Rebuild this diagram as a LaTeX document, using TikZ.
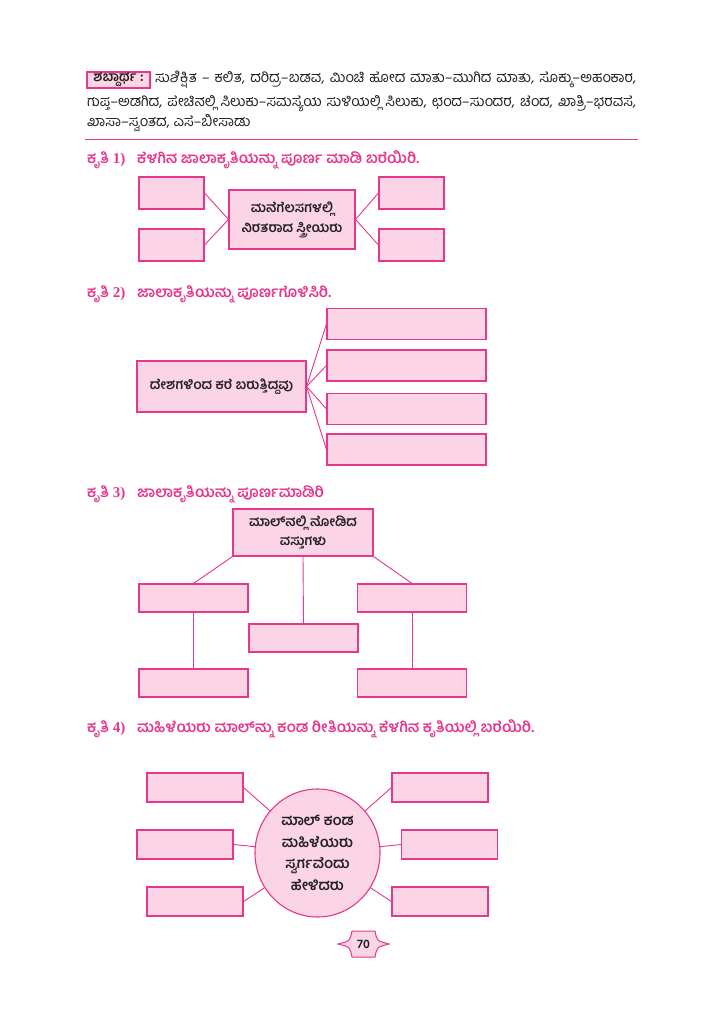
\documentclass[tikz,border=0pt]{standalone}
\usepackage{fontspec}
\usetikzlibrary{shapes.geometric}
\newfontfamily\kn[Script=Kannada]{Hind Mysuru}
\newfontfamily\lat{Liberation Serif}
\definecolor{pk}{HTML}{E8368C}
\definecolor{pkfill}{HTML}{FBD5E5}
\definecolor{txt}{HTML}{231F20}
\tikzset{
 pbox/.style={draw=pk, fill=pkfill, line width=1.1pt, inner sep=0pt},
 conn/.style={draw=pk, line width=0.9pt},
 head/.style={anchor=west, inner sep=0pt, text=pk, font=\kn\bfseries\fontsize{15}{17}\selectfont},
 gloss/.style={anchor=west, inner sep=0pt, font=\kn\fontsize{14.5}{16}\selectfont, text=txt},
 lbl/.style={font=\kn\bfseries\fontsize{13.5}{20}\selectfont, align=center, text=txt},
}
\begin{document}
\begin{tikzpicture}[x=1pt,y=-1pt]
\useasboundingbox (0,0) rectangle (724,1024);
\fill[white] (0,0) rectangle (724,1024);

% glossary
\node[pbox, minimum width=63pt, minimum height=16pt, font=\kn\bfseries\fontsize{13.5}{14}\selectfont, text=txt] (gl) at (118.5,80) {ಶಬ್ದಾರ್ಥ :};
\node[gloss] (g1) at (155,80) {\makebox[481pt][s]{ಸುಶಿಕ್ಷಿತ – ಕಲಿತ, ದರಿದ್ರ–ಬಡವ, ಮಿಂಚಿ ಹೋದ ಮಾತು–ಮುಗಿದ ಮಾತು, ಸೊಕ್ಕು–ಅಹಂಕಾರ,}};
\node[gloss] (g2) at (87,104) {\makebox[549pt][s]{ಗುಪ್ತ–ಅಡಗಿದ, ಪೇಚಿನಲ್ಲಿ ಸಿಲುಕು–ಸಮಸ್ಯೆಯ ಸುಳಿಯಲ್ಲಿ ಸಿಲುಕು, ಛಂದ–ಸುಂದರ, ಚೆಂದ, ಖಾತ್ರಿ–ಭರವಸೆ,}};
\node[gloss] (g3) at (87,123) {ಖಾಸಾ–ಸ್ವಂತದ, ಎಸೆ–ಬೀಸಾಡು};
\coordinate (ra) at (85,139);
\coordinate (rb) at (638,139);
\draw[pk, line width=0.9pt] (ra) -- (rb);

% task 1
\node[head] (h1n) at (87,160) {ಕೃತಿ {\lat\bfseries 1)}};
\node[head] (h1t) at (137,160) {ಕೆಳಗಿನ ಜಾಲಾಕೃತಿಯನ್ನು ಪೂರ್ಣ ಮಾಡಿ ಬರೆಯಿರಿ.};
\node[pbox, minimum width=126pt, minimum height=59pt, lbl] (c1) at (292,219.5) {ಮನೆಗೆಲಸಗಳಲ್ಲಿ\\ನಿರತರಾದ ಸ್ತ್ರೀಯರು};
\node[pbox, minimum width=65pt, minimum height=32pt] (a1) at (171.5,193) {};
\node[pbox, minimum width=65pt, minimum height=32pt] (a2) at (171.5,245) {};
\node[pbox, minimum width=65pt, minimum height=32pt] (a3) at (411.5,193) {};
\node[pbox, minimum width=65pt, minimum height=32pt] (a4) at (411.5,245) {};
\draw[conn] (a1.east) -- (c1.west) -- (a2.east);
\draw[conn] (a3.west) -- (c1.east) -- (a4.west);

% task 2
\node[head] (h2n) at (87,294) {ಕೃತಿ {\lat\bfseries 2)}};
\node[head] (h2t) at (137,294) {ಜಾಲಾಕೃತಿಯನ್ನು ಪೂರ್ಣಗೊಳಿಸಿರಿ.};
\node[pbox, minimum width=169pt, minimum height=51pt, lbl] (c2) at (221.5,386.5) {ದೇಶಗಳಿಂದ ಕರೆ ಬರುತ್ತಿದ್ದವು};
\node[pbox, minimum width=159pt, minimum height=31pt] (b1) at (406.5,324) {};
\node[pbox, minimum width=159pt, minimum height=31pt] (b2) at (406.5,365.5) {};
\node[pbox, minimum width=159pt, minimum height=31pt] (b3) at (406.5,409) {};
\node[pbox, minimum width=159pt, minimum height=31pt] (b4) at (406.5,449.5) {};
\foreach \b in {b1,b2,b3,b4} \draw[conn] (c2.east) -- (\b.west);

% task 3
\node[head] (h3n) at (87,494) {ಕೃತಿ {\lat\bfseries 3)}};
\node[head] (h3t) at (137,494) {ಜಾಲಾಕೃತಿಯನ್ನು ಪೂರ್ಣಮಾಡಿರಿ};
\node[pbox, minimum width=140pt, minimum height=47pt, lbl, font=\kn\bfseries\fontsize{13.5}{19}\selectfont] (c3) at (303,532.5) {ಮಾಲ್‌ನಲ್ಲಿ ನೋಡಿದ\\ವಸ್ತುಗಳು};
\node[pbox, minimum width=109pt, minimum height=28pt] (d1) at (193.5,598) {};
\node[pbox, minimum width=109pt, minimum height=28pt] (d2) at (412,598) {};
\node[pbox, minimum width=109pt, minimum height=28pt] (d3) at (303.5,638) {};
\node[pbox, minimum width=109pt, minimum height=28pt] (d4) at (193.5,683) {};
\node[pbox, minimum width=109pt, minimum height=28pt] (d5) at (412,683) {};
\draw[conn] (c3.south west) -- (d1.north);
\draw[conn] (c3.south east) -- (d2.north);
\draw[conn] (c3.south) -- (d3.north);
\draw[conn] (d1.south) -- (d4.north);
\draw[conn] (d2.south) -- (d5.north);

% task 4
\node[head] (h4n) at (87,729) {ಕೃತಿ {\lat\bfseries 4)}};
\node[head] (h4t) at (137,729) {ಮಹಿಳೆಯರು ಮಾಲ್‌ನ್ನು ಕಂಡ ರೀತಿಯನ್ನು ಕೆಳಗಿನ ಕೃತಿಯಲ್ಲಿ ಬರೆಯಿರಿ.};
\node[pbox, ellipse, minimum width=125pt, minimum height=128pt, lbl, font=\kn\bfseries\fontsize{14.5}{21.5}\selectfont] (e) at (317.5,853) {ಮಾಲ್ ಕಂಡ\\ಮಹಿಳೆಯರು\\ಸ್ವರ್ಗವೆಂದು\\ಹೇಳಿದರು};
\node[pbox, minimum width=96pt, minimum height=29pt] (f1) at (195,787.5) {};
\node[pbox, minimum width=96pt, minimum height=29pt] (f2) at (185,844.5) {};
\node[pbox, minimum width=96pt, minimum height=29pt] (f3) at (195,901.5) {};
\node[pbox, minimum width=96pt, minimum height=29pt] (f4) at (440,787.5) {};
\node[pbox, minimum width=96pt, minimum height=29pt] (f5) at (449.5,844.5) {};
\node[pbox, minimum width=96pt, minimum height=29pt] (f6) at (440,901.5) {};
\draw[conn] (f1.east) -- (e);
\draw[conn] (f2.east) -- (e);
\draw[conn] (f3.east) -- (e);
\draw[conn] (f4.west) -- (e);
\draw[conn] (f5.west) -- (e);
\draw[conn] (f6.west) -- (e);

% page number
\draw[pk, fill=pkfill, line width=1pt] (352,931) -- (375,931) .. controls (377,941) .. (389,944) .. controls (377,947) .. (375,957) -- (352,957) .. controls (350,947) .. (338,944) .. controls (350,941) .. (352,931) -- cycle;
\node[font=\kn\bfseries\fontsize{12.5}{14}\selectfont, text=txt] (pn) at (363.5,944) {70};
\end{tikzpicture}
\end{document}
